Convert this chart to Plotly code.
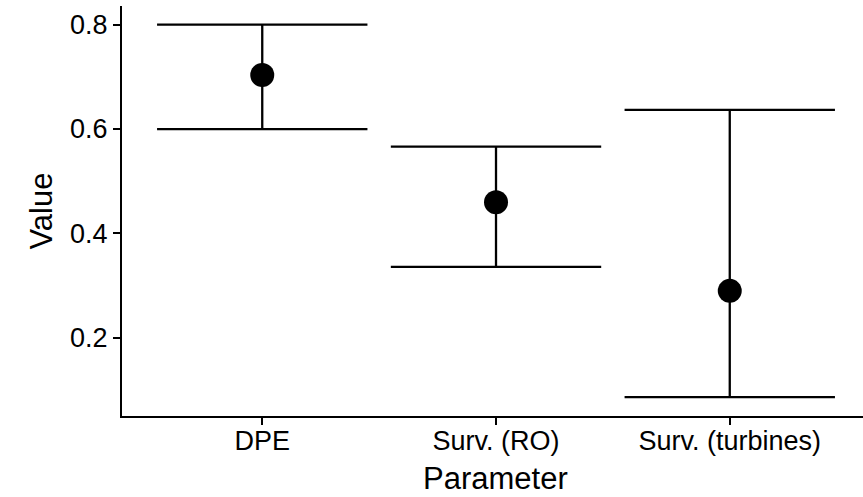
import plotly.graph_objects as go

categories = ["DPE", "Surv. (RO)", "Surv. (turbines)"]
values = [0.7035, 0.4597, 0.2900]
upper = [0.8000, 0.5664, 0.6368]
lower = [0.6000, 0.3361, 0.0865]
y_ticks = [0.2, 0.4, 0.6, 0.8]
y_tick_labels = ["0.2", "0.4", "0.6", "0.8"]
x_title = "Parameter"
y_title = "Value"

W, H = 863, 497
ML, MR, MT, MB = 122, 0, 6, 81
x_range = [0.4, 3.57]
y_range = [0.0503, 0.8357]
plot_w = W - ML - MR
cap_half_px = 0.45 * plot_w / (x_range[1] - x_range[0])

xpos = list(range(1, len(categories) + 1))

fig = go.Figure()
fig.add_trace(go.Scatter(
    x=xpos, y=values, mode="markers",
    marker=dict(size=24, color="black"),
    error_y=dict(
        type="data", symmetric=False,
        array=[u - v for u, v in zip(upper, values)],
        arrayminus=[v - l for v, l in zip(values, lower)],
        color="black", thickness=2.3, width=cap_half_px,
    ),
    showlegend=False,
))

font = "Liberation Sans, Arial, Helvetica, sans-serif"
fig.update_layout(
    width=W, height=H,
    margin=dict(l=ML, r=MR, t=MT, b=MB, autoexpand=False),
    paper_bgcolor="white", plot_bgcolor="white",
    font=dict(family=font, color="black"),
    xaxis=dict(
        range=x_range, tickmode="array", tickvals=xpos, ticktext=categories,
        showline=True, linecolor="black", linewidth=2.3,
        ticks="outside", ticklen=7, tickwidth=2.3, tickcolor="black",
        showgrid=False, zeroline=False, automargin=False,
        ticklabelstandoff=-8,
        tickfont=dict(size=27, color="black"),
    ),
    yaxis=dict(
        range=y_range, tickmode="array", tickvals=y_ticks, ticktext=y_tick_labels,
        showline=True, linecolor="black", linewidth=2.3,
        ticks="outside", ticklen=7, tickwidth=2.3, tickcolor="black",
        showgrid=False, zeroline=False, automargin=False,
        tickfont=dict(size=27, color="black"),
        title=dict(text=y_title, font=dict(size=31, color="black"), standoff=8),
    ),
    annotations=[dict(
        text=x_title, xref="paper", yref="paper", x=0.5047, y=0,
        xanchor="center", yanchor="middle", yshift=-62, showarrow=False,
        borderpad=0,
        font=dict(size=31, color="black", family=font),
    )],
)

fig.write_html("out.html",
               config={"displayModeBar": False},
               post_script="document.body.style.margin='0';document.body.style.overflow='hidden';")
